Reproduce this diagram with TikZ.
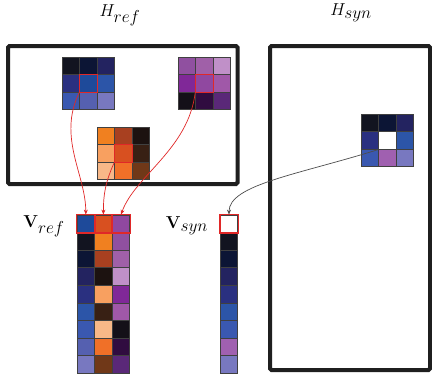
\documentclass[tikz,border=0pt]{standalone}
\usetikzlibrary{arrows.meta}

% patch colours (row-major, 5 = centre)
\definecolor{blue1}{HTML}{121420}
\definecolor{blue2}{HTML}{0C1535}
\definecolor{blue3}{HTML}{232360}
\definecolor{blue4}{HTML}{2A3080}
\definecolor{blue5}{HTML}{1E4A9A}
\definecolor{blue6}{HTML}{2C55A8}
\definecolor{blue7}{HTML}{3A58B0}
\definecolor{blue8}{HTML}{5560B0}
\definecolor{blue9}{HTML}{7878C0}
\definecolor{pur1}{HTML}{9050A0}
\definecolor{pur2}{HTML}{A060A8}
\definecolor{pur3}{HTML}{C090C8}
\definecolor{pur4}{HTML}{802898}
\definecolor{pur5}{HTML}{9048A0}
\definecolor{pur6}{HTML}{A058A8}
\definecolor{pur7}{HTML}{141018}
\definecolor{pur8}{HTML}{300C40}
\definecolor{pur9}{HTML}{5A2878}
\definecolor{org1}{HTML}{F08020}
\definecolor{org2}{HTML}{A84020}
\definecolor{org3}{HTML}{1C1210}
\definecolor{org4}{HTML}{F8A060}
\definecolor{org5}{HTML}{D85020}
\definecolor{org6}{HTML}{382014}
\definecolor{org7}{HTML}{F8B888}
\definecolor{org8}{HTML}{F07028}
\definecolor{org9}{HTML}{703818}
\colorlet{syn1}{blue1}
\colorlet{syn2}{blue2}
\colorlet{syn3}{blue3}
\colorlet{syn4}{blue4}
\colorlet{syn5}{white}
\colorlet{syn6}{blue6}
\colorlet{syn7}{blue7}
\definecolor{syn8}{HTML}{A060B0}
\colorlet{syn9}{blue9}
\definecolor{selred}{HTML}{E02828}

\begin{document}
\begin{tikzpicture}[x=1pt, y=-1pt,
    cell/.style={draw=black!75, line width=0.8pt, minimum size=17.6pt, inner sep=0pt},
    sel/.style={draw=selred, line width=1.4pt},
    frame/.style={draw=black!88, line width=4pt, rounded corners=1.5pt},
    refarrow/.style={-{Stealth[length=5pt,width=4pt]}, draw=selred, line width=0.7pt},
    synarrow/.style={-{Stealth[length=5pt,width=4pt]}, draw=black!70, line width=0.7pt},
    lbl/.style={font=\LARGE}
]
\useasboundingbox (0,0) rectangle (432,376);

% H_ref and H_syn
\draw[frame] (8,46) rectangle (237.5,184);
\draw[frame] (270,46) rectangle (430,370);
\node[lbl] (lhref) at (120,15) {$H_{\textstyle ref}$};
\node[lbl] (lhsyn) at (351,13) {$H_{\textstyle syn}$};

% 3x3 patches
\foreach \p/\col/\x/\y in {b/blue/62/57, p/pur/178/57, o/org/97/127, s/syn/361/114}
  \foreach \i in {1,2,3}
    \foreach \j in {1,2,3} {
      \pgfmathtruncatemacro\n{3*(\i-1)+\j}
      \node[cell, fill=\col\n] (p\p-\n) at ({\x+(\j-0.5)*17.6},{\y+(\i-0.5)*17.6}) {};
    }
\foreach \p in {b,p,o}
  \draw[sel] (p\p-5.south west) rectangle (p\p-5.north east);

% V_ref columns
\node[lbl] (lvref) at (44,226) {$\mathbf{V}_{\textstyle ref}$};
\foreach \col/\x in {blue/77, org/94.6, pur/112.2}
  \foreach \n [count=\r] in {5,1,2,3,4,6,7,8,9}
    \node[cell, fill=\col\n] (v\col-\r) at ({\x+8.8},{215+(\r-0.5)*17.6}) {};
\foreach \col in {blue,org,pur}
  \draw[sel] (v\col-1.south west) rectangle (v\col-1.north east);

% V_syn column
\node[lbl] (lvsyn) at (187,226) {$\mathbf{V}_{\textstyle syn}$};
\foreach \n [count=\r] in {5,1,2,3,4,6,7,8,9}
  \node[cell, fill=syn\n] (vsyn-\r) at (229,{215+(\r-0.5)*17.6}) {};
\draw[sel] (vsyn-1.south west) rectangle (vsyn-1.north east);

% centre pixels into the vectors
\draw[refarrow] (pb-5.south west) .. controls +(-22,45) and +(0,-40) .. (vblue-1.north);
\draw[refarrow] (po-5.south west) .. controls +(-9,20) and +(0,-20) .. (vorg-1.north);
\draw[refarrow] (pp-5.south west) .. controls +(-7,57) and +(14,-39) .. (vpur-1.north);
\draw[synarrow] (ps-5.south west) .. controls +(-80,25) and +(0,-30) .. (vsyn-1.north);

\end{tikzpicture}
\end{document}
